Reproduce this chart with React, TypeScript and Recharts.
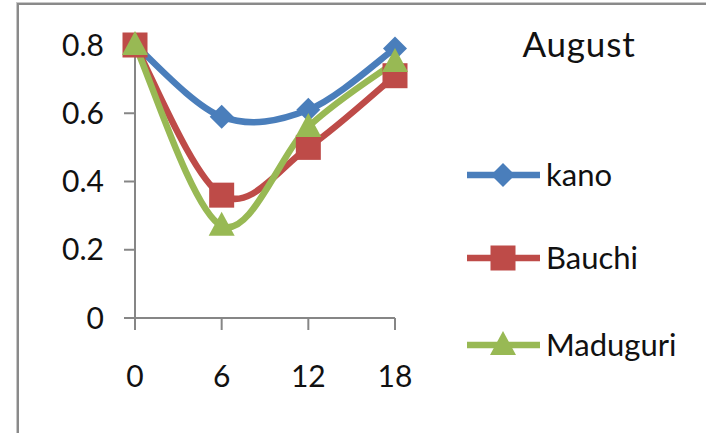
import { Legend, Line, LineChart, XAxis, YAxis } from "recharts";

const hours = [0, 6, 12, 18];
const kano = [0.8, 0.59, 0.61, 0.79];
const bauchi = [0.8, 0.36, 0.5, 0.71];
const maduguri = [0.8, 0.27, 0.56, 0.75];
const yTicks = [0, 0.2, 0.4, 0.6, 0.8];
const title = "August";

const data = hours.map((h, i) => ({ hour: h, kano: kano[i], bauchi: bauchi[i], maduguri: maduguri[i] }));

const series = [
  { key: "kano", label: "kano", color: "#4a7ebb", shape: "diamond" },
  { key: "bauchi", label: "Bauchi", color: "#be4b48", shape: "square" },
  { key: "maduguri", label: "Maduguri", color: "#98b954", shape: "triangle" },
];

const FONT = "Lato, 'Open Sans', sans-serif";

// Excel-style smoothed line (Catmull-Rom through every point)
const excelCurve = (ctx: any) => {
  let pts: number[][] = [];
  return {
    areaStart() {},
    areaEnd() {},
    lineStart() {
      pts = [];
    },
    point(x: number, y: number) {
      pts.push([+x, +y]);
    },
    lineEnd() {
      if (!pts.length) return;
      ctx.moveTo(pts[0][0], pts[0][1]);
      for (let i = 0; i < pts.length - 1; i++) {
        const p0 = pts[i - 1] || pts[i];
        const p1 = pts[i];
        const p2 = pts[i + 1];
        const p3 = pts[i + 2] || p2;
        ctx.bezierCurveTo(
          p1[0] + (p2[0] - p0[0]) / 6,
          p1[1] + (p2[1] - p0[1]) / 6,
          p2[0] - (p3[0] - p1[0]) / 6,
          p2[1] - (p3[1] - p1[1]) / 6,
          p2[0],
          p2[1]
        );
      }
    },
  };
};

function Marker({ cx, cy, shape, color }: { cx: number; cy: number; shape: string; color: string }) {
  if (shape === "diamond") {
    const r = 12;
    return <polygon points={`${cx},${cy - r} ${cx + r},${cy} ${cx},${cy + r} ${cx - r},${cy}`} fill={color} />;
  }
  if (shape === "square") {
    const s = 12.5;
    return <rect x={cx - s} y={cy - s} width={s * 2} height={s * 2} fill={color} />;
  }
  return <polygon points={`${cx},${cy - 14} ${cx + 13},${cy + 10} ${cx - 13},${cy + 10}`} fill={color} />;
}

function LegendBox() {
  const rows = [175, 258, 345];
  return (
    <svg width={246} height={433} style={{ display: "block" }}>
      <text x={119} y={57} textAnchor="middle" fontFamily={FONT} fontSize={35} letterSpacing={0.8} fill="#111">
        {title}
      </text>
      {series.map((s, i) => (
        <g key={s.key}>
          <line x1={7} x2={80} y1={rows[i]} y2={rows[i]} stroke={s.color} strokeWidth={6.5} />
          <Marker cx={43} cy={rows[i]} shape={s.shape} color={s.color} />
          <text x={86} y={rows[i]} dy="0.36em" fontFamily={FONT} fontSize={31} fill="#111">
            {s.label}
          </text>
        </g>
      ))}
    </svg>
  );
}

export default function App() {
  const tickStyle = { fontSize: 30, fontFamily: FONT, fill: "#111" };
  return (
    <div style={{ position: "relative", width: 706, height: 433, overflow: "hidden", background: "#fff" }}>
      <style>{"body{margin:0}"}</style>
      <div
        style={{
          position: "absolute",
          left: 17,
          top: 3,
          width: 800,
          height: 600,
          border: "2px solid #8a8a8a",
          boxShadow: "0 0 0 1px #c8c8c8",
        }}
      />
      <div style={{ position: "absolute", left: 0, top: 0 }}>
        <LineChart width={706} height={433} data={data} margin={{ top: 45, right: 311, bottom: 0, left: 0 }}>
          <XAxis
            dataKey="hour"
            type="number"
            domain={[0, 18]}
            ticks={hours}
            height={115}
            tickSize={12}
            tickMargin={36}
            stroke="#868686"
            strokeWidth={2}
            tick={tickStyle}
          />
          <YAxis
            domain={[0, 0.8]}
            ticks={yTicks}
            width={135}
            tickSize={11}
            tickMargin={20}
            stroke="#868686"
            strokeWidth={2}
            tick={tickStyle}
            tickFormatter={(v: number) => String(v)}
          />
          {series.map((s) => (
            <Line
              key={s.key}
              dataKey={s.key}
              name={s.label}
              type={excelCurve as any}
              stroke={s.color}
              strokeWidth={6.5}
              isAnimationActive={false}
              dot={(p: any) => <Marker key={`${s.key}-${p.index}`} cx={p.cx} cy={p.cy} shape={s.shape} color={s.color} />}
              activeDot={false}
            />
          ))}
          <Legend
            layout="vertical"
            align="center"
            verticalAlign="middle"
            wrapperStyle={{ position: "absolute", left: 460, top: 0, width: 246, height: 433 }}
            content={() => <LegendBox />}
          />
        </LineChart>
      </div>
    </div>
  );
}
